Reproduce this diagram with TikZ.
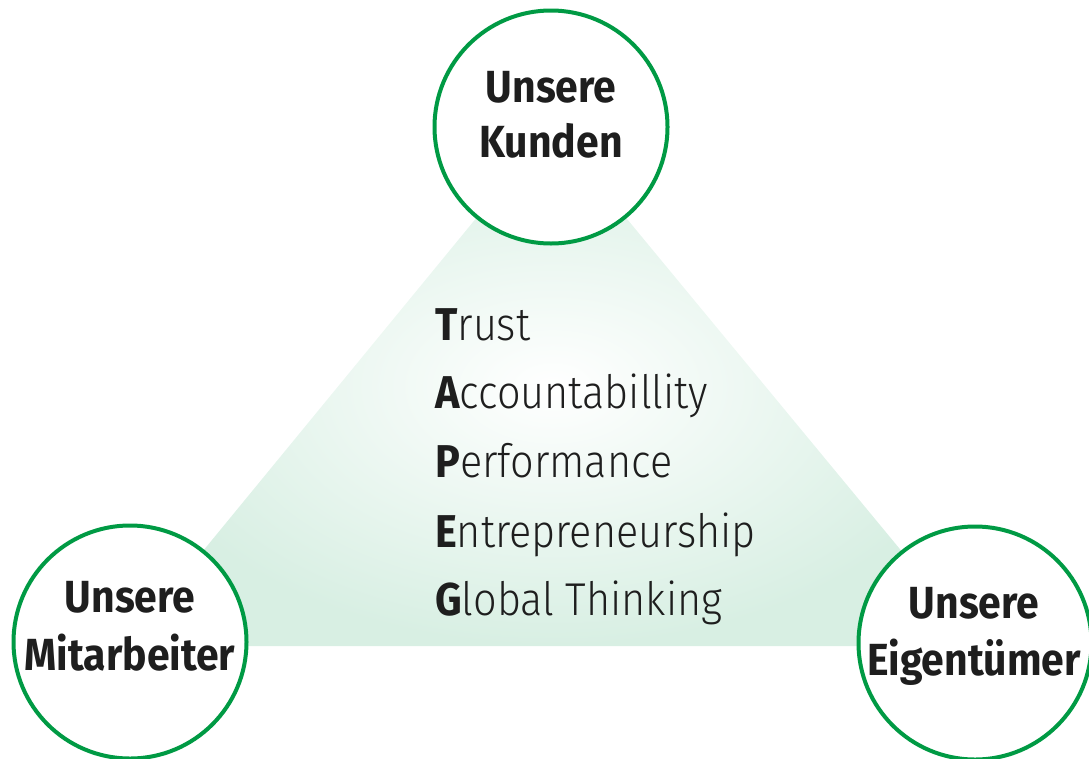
\documentclass[tikz,border=0pt]{standalone}
\usepackage{fontspec}
\setmainfont{Fira Sans}
\newfontfamily\lightfont{Fira Sans Light}[FakeStretch=0.9]
\newfontfamily\boldcap{Fira Sans}[FakeStretch=0.9,UprightFont={* Bold}]
\newfontfamily\lblfont{Fira Sans}[FakeStretch=0.91,UprightFont={* Bold}]
\definecolor{ring}{HTML}{009A44}
\definecolor{tri}{HTML}{D8EFE3}
\definecolor{ink}{HTML}{1E1E1E}
\tikzset{
  ringnode/.style={circle, draw=ring, line width=4pt, fill=white, minimum size=233pt, inner sep=0pt},
  lbl/.style={anchor=base, inner sep=0pt, text=ink, font=\lblfont\fontsize{45}{55}\selectfont},
  val/.style={anchor=base west, inner sep=0pt, text=ink, font=\fontsize{46}{69}\selectfont},
}
\begin{document}
\begin{tikzpicture}[x=1pt,y=-1pt]
\useasboundingbox (0,0) rectangle (1089,758);
\coordinate (A) at (551,127);
\coordinate (B) at (125,646);
\coordinate (C) at (980,646);
\shade[inner color=white, outer color=tri] (A) -- (B) -- (C) -- cycle;
\node[ringnode] (top) at (551,127) {};
\node[ringnode] (left) at (130,642) {};
\node[ringnode] (right) at (975,643) {};
\node[lbl] (t1) at (551,102) {Unsere};
\node[lbl] (t2) at (551,157) {Kunden};
\node[lbl] (l1) at (130,612) {Unsere};
\node[lbl] (l2) at (130,670) {Mitarbeiter};
\node[lbl] (r1) at (974,618) {Unsere};
\node[lbl] (r2) at (974,675) {Eigentümer};
\node[val] (v1) at (435,340) {{\boldcap T}{\lightfont rust}};
\node[val] (v2) at (435,408) {{\boldcap A}{\lightfont ccountabillity}};
\node[val] (v3) at (435,477) {{\boldcap P}{\lightfont erformance}};
\node[val] (v4) at (435,547) {{\boldcap E}{\lightfont ntrepreneurship}};
\node[val] (v5) at (435,615) {{\boldcap G}{\lightfont lobal Thinking}};
\end{tikzpicture}
\end{document}
